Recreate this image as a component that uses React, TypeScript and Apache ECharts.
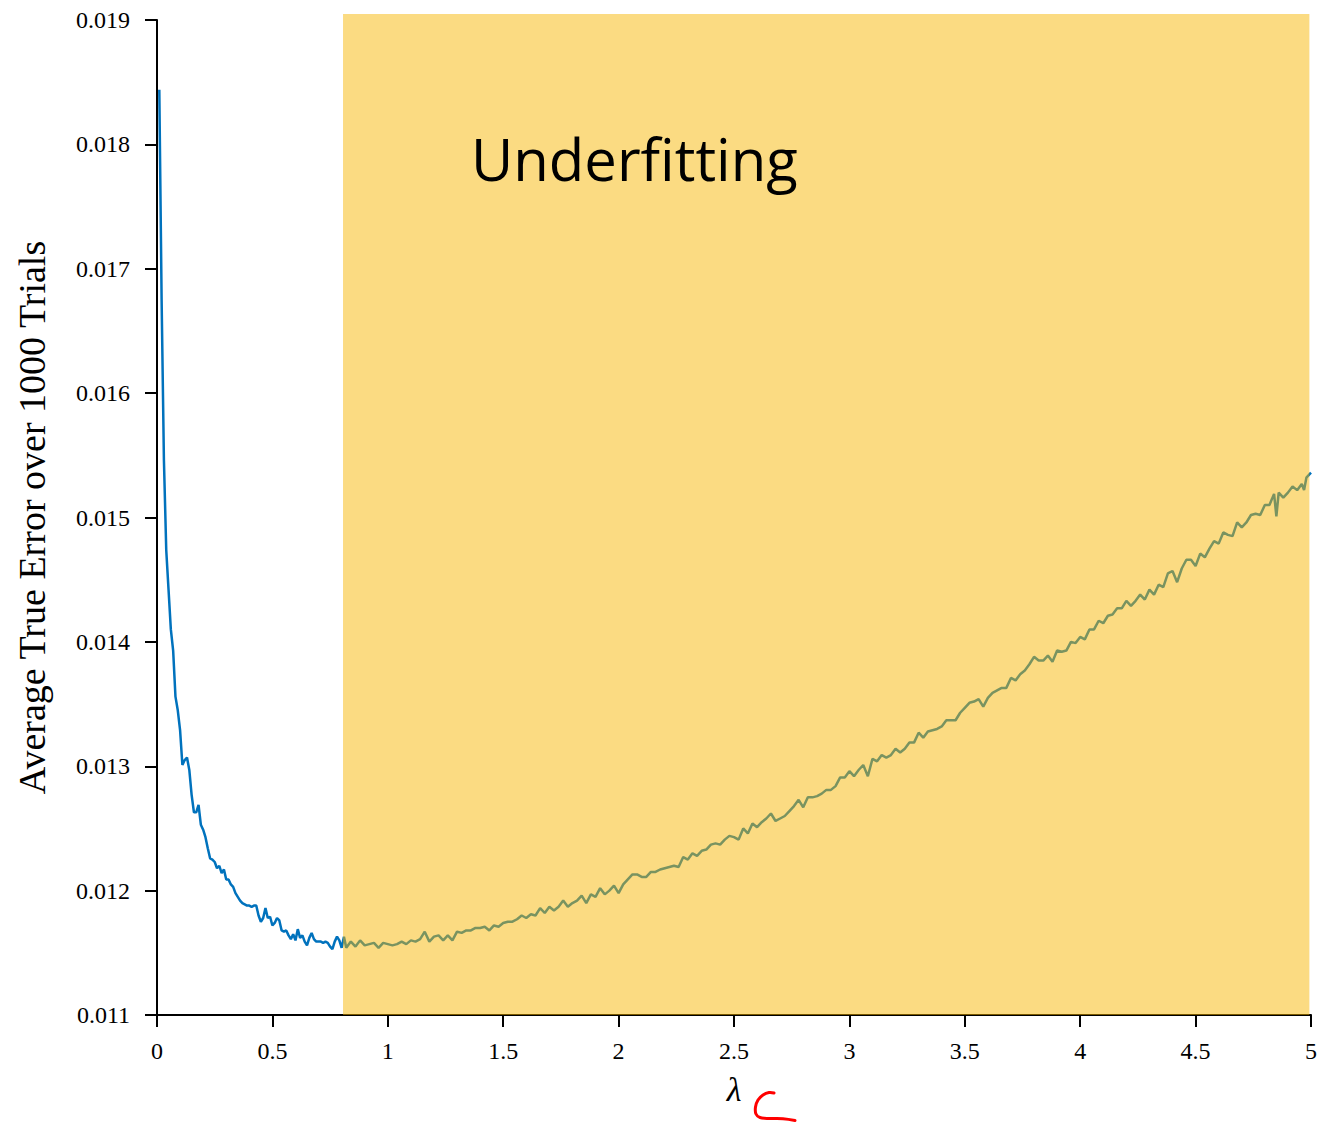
import React, { useEffect, useRef } from "react";
import * as echarts from "echarts";

// λ values (x) and average true error (y)
const lambdas: number[] = [
  0.01, 0.02, 0.03, 0.04, 0.05, 0.06, 0.07, 0.08, 0.09, 0.1,
  0.11, 0.12, 0.13, 0.14, 0.15, 0.16, 0.17, 0.18, 0.19, 0.2,
  0.21, 0.22, 0.23, 0.24, 0.25, 0.26, 0.27, 0.28, 0.29, 0.3,
  0.31, 0.32, 0.33, 0.34, 0.35, 0.36, 0.37, 0.38, 0.39, 0.4,
  0.41, 0.42, 0.43, 0.44, 0.45, 0.46, 0.47, 0.48, 0.49, 0.5,
  0.51, 0.52, 0.53, 0.54, 0.55, 0.56, 0.57, 0.58, 0.59, 0.6,
  0.61, 0.62, 0.63, 0.64, 0.65, 0.66, 0.67, 0.68, 0.69, 0.7,
  0.71, 0.72, 0.73, 0.74, 0.75, 0.76, 0.77, 0.78, 0.79, 0.8, 0.81,
  0.82, 0.84, 0.86, 0.88, 0.9, 0.92, 0.94, 0.96, 0.98, 1.0,
  1.02, 1.04, 1.06, 1.08, 1.1, 1.12, 1.14, 1.16, 1.18, 1.2,
  1.22, 1.24, 1.26, 1.28, 1.3, 1.32, 1.34, 1.36, 1.38, 1.4,
  1.42, 1.44, 1.46, 1.48, 1.5, 1.52, 1.54, 1.56, 1.58, 1.6,
  1.62, 1.64, 1.66, 1.68, 1.7, 1.72, 1.74, 1.76, 1.78, 1.8,
  1.82, 1.84, 1.86, 1.88, 1.9, 1.92, 1.94, 1.96, 1.98, 2.0,
  2.02, 2.04, 2.06, 2.08, 2.1, 2.12, 2.14, 2.16, 2.18, 2.2,
  2.22, 2.24, 2.26, 2.28, 2.3, 2.32, 2.34, 2.36, 2.38, 2.4,
  2.42, 2.44, 2.46, 2.48, 2.5, 2.52, 2.54, 2.56, 2.58, 2.6,
  2.62, 2.64, 2.66, 2.68, 2.7, 2.72, 2.74, 2.76, 2.78, 2.8,
  2.82, 2.84, 2.86, 2.88, 2.9, 2.92, 2.94, 2.96, 2.98, 3.0,
  3.02, 3.04, 3.06, 3.08, 3.1, 3.12, 3.14, 3.16, 3.18, 3.2,
  3.22, 3.24, 3.26, 3.28, 3.3, 3.32, 3.34, 3.36, 3.38, 3.4,
  3.42, 3.44, 3.46, 3.48, 3.5, 3.52, 3.54, 3.56, 3.58, 3.6,
  3.62, 3.64, 3.66, 3.68, 3.7, 3.72, 3.74, 3.76, 3.78, 3.8,
  3.82, 3.84, 3.86, 3.88, 3.9, 3.92, 3.94, 3.96, 3.98, 4.0,
  4.02, 4.04, 4.06, 4.08, 4.1, 4.12, 4.14, 4.16, 4.18, 4.2,
  4.22, 4.24, 4.26, 4.28, 4.3, 4.32, 4.34, 4.36, 4.38, 4.4,
  4.42, 4.44, 4.46, 4.48, 4.5, 4.52, 4.54, 4.56, 4.58, 4.6,
  4.62, 4.64, 4.66, 4.68, 4.7, 4.72, 4.74, 4.76, 4.78, 4.8,
  4.82, 4.84, 4.85, 4.86, 4.88, 4.9, 4.92, 4.94, 4.96, 4.97, 4.98, 5.0,
];

const errors: number[] = [
  0.01844, 0.01675, 0.01546, 0.01474, 0.01442, 0.0141, 0.01393, 0.01356, 0.01345, 0.01329,
  0.01301, 0.01305, 0.01307, 0.01297, 0.01277, 0.01263, 0.01263, 0.01269, 0.01253, 0.01249,
  0.01243, 0.01234, 0.01226, 0.01225, 0.01223, 0.01218, 0.0122, 0.01214, 0.01217, 0.01209,
  0.01209, 0.01205, 0.01203, 0.01198, 0.01195, 0.01192, 0.0119, 0.01189, 0.01188, 0.01188,
  0.01187, 0.01188, 0.01188, 0.0118, 0.01175, 0.01178, 0.01186, 0.01178, 0.01179, 0.01172,
  0.01174, 0.01178, 0.01176, 0.01168, 0.01167, 0.01168, 0.01164, 0.01161, 0.01165, 0.0116,
  0.01169, 0.01162, 0.01164, 0.01159, 0.01156, 0.01162, 0.01166, 0.01161, 0.01159, 0.01159,
  0.01159, 0.01158, 0.01159, 0.01158, 0.01155, 0.01153, 0.01159, 0.01163, 0.0116, 0.01154, 0.01163,
  0.01154, 0.01159, 0.01155, 0.0116, 0.01156, 0.01157, 0.01158, 0.01154, 0.01158, 0.01157,
  0.01156, 0.01157, 0.01159, 0.01157, 0.0116, 0.01159, 0.01161, 0.01167, 0.01159, 0.01163,
  0.01164, 0.0116, 0.01164, 0.0116, 0.01167, 0.01166, 0.01168, 0.01168, 0.0117, 0.0117,
  0.01171, 0.01168, 0.01172, 0.01171, 0.01174, 0.01175, 0.01175, 0.01177, 0.0118, 0.01178,
  0.01181, 0.0118, 0.01186, 0.01182, 0.01187, 0.01184, 0.01187, 0.01192, 0.01187, 0.0119,
  0.01192, 0.01196, 0.0119, 0.01197, 0.01195, 0.01202, 0.01197, 0.012, 0.01204, 0.01198,
  0.01205, 0.01209, 0.01213, 0.01213, 0.01211, 0.01211, 0.01215, 0.01215, 0.01217, 0.01218,
  0.01219, 0.0122, 0.01219, 0.01227, 0.01225, 0.0123, 0.01228, 0.01232, 0.01233, 0.01237,
  0.01238, 0.01237, 0.01241, 0.01244, 0.01243, 0.01241, 0.0125, 0.01246, 0.01254, 0.01251,
  0.01255, 0.01258, 0.01262, 0.01256, 0.01258, 0.0126, 0.01264, 0.01268, 0.01273, 0.01267,
  0.01275, 0.01275, 0.01276, 0.01278, 0.01281, 0.01281, 0.01284, 0.01291, 0.01291, 0.01296,
  0.01292, 0.01297, 0.01301, 0.01292, 0.01306, 0.01304, 0.01309, 0.01307, 0.01309, 0.01314,
  0.01311, 0.01314, 0.01319, 0.01319, 0.01327, 0.01323, 0.01328, 0.01329, 0.0133, 0.01332,
  0.01337, 0.01337, 0.01337, 0.01343, 0.01347, 0.01351, 0.01352, 0.01354, 0.01348, 0.01355,
  0.01359, 0.01361, 0.01363, 0.01363, 0.01371, 0.01369, 0.01374, 0.01377, 0.01382, 0.01388,
  0.01385, 0.01385, 0.01389, 0.01384, 0.01393, 0.01392, 0.01393, 0.014, 0.01399, 0.01404,
  0.01402, 0.0141, 0.0141, 0.01417, 0.01415, 0.01421, 0.01422, 0.01427, 0.01427, 0.01433,
  0.01429, 0.01433, 0.01438, 0.01434, 0.01442, 0.01438, 0.01446, 0.01444, 0.01455, 0.01457,
  0.01448, 0.01459, 0.01466, 0.01466, 0.01461, 0.01471, 0.01468, 0.01475, 0.01481, 0.01479,
  0.01488, 0.01486, 0.01485, 0.01496, 0.01492, 0.01496, 0.01502, 0.01503, 0.01502, 0.0151,
  0.0151, 0.01519, 0.01501, 0.0152, 0.01516, 0.0152, 0.01525, 0.01522, 0.01527, 0.01522, 0.01532, 0.01536,
];

// Shaded "Underfitting" region: [λ start, λ end, error top, error bottom]
const underfitRegion: number[] = [0.806, 4.993, 0.019048, 0.011];
const regionLabel = "Underfitting";

const xTicks = { min: 0, max: 5, interval: 0.5 };
const yTicks = { min: 0.011, max: 0.019, interval: 0.001 };

const xTitle = "λ";
const yTitle = "Average True Error over 1000 Trials";

const serif = "'Liberation Serif', 'DejaVu Serif', serif";

export default function App() {
  const ref = useRef<HTMLDivElement>(null);

  useEffect(() => {
    if (!ref.current) return;
    const chart = echarts.init(ref.current, undefined, { renderer: "svg" });
    const lineData = lambdas.map((l, i) => [l, errors[i]]);

    chart.setOption({
      animation: false,
      backgroundColor: "#ffffff",
      grid: { left: 157, right: 13, top: 20, bottom: 110, containLabel: false },
      xAxis: {
        type: "value",
        min: xTicks.min,
        max: xTicks.max,
        interval: xTicks.interval,
        name: xTitle,
        nameLocation: "middle",
        nameGap: 57,
        nameTextStyle: { fontFamily: serif, fontStyle: "italic", fontSize: 34, color: "#000" },
        axisLine: { show: true, onZero: false, lineStyle: { color: "#000", width: 2 } },
        axisTick: { show: true, inside: false, length: 12, lineStyle: { color: "#000", width: 2 } },
        axisLabel: {
          margin: 24,
          fontFamily: serif,
          fontSize: 24,
          color: "#000",
          formatter: (v: number) => String(v),
        },
        splitLine: { show: false },
      },
      yAxis: {
        type: "value",
        min: yTicks.min,
        max: yTicks.max,
        interval: yTicks.interval,
        name: yTitle,
        nameLocation: "middle",
        nameGap: 106,
        nameTextStyle: { fontFamily: serif, fontSize: 38, color: "#000" },
        axisLine: { show: true, onZero: false, lineStyle: { color: "#000", width: 2 } },
        axisTick: { show: true, inside: false, length: 12, lineStyle: { color: "#000", width: 2 } },
        axisLabel: {
          margin: 27,
          fontFamily: serif,
          fontSize: 24,
          color: "#000",
          formatter: (v: number) => v.toFixed(3),
        },
        splitLine: { show: false },
      },
      graphic: [
        {
          type: "text",
          x: 471,
          y: 158,
          z: 100,
          style: {
            text: regionLabel,
            fontFamily: "'Open Sans', 'Noto Sans', sans-serif",
            fontSize: 58,
            fill: "#000",
            textVerticalAlign: "middle",
            verticalAlign: "middle",
          },
        },
        {
          type: "polyline",
          z: 100,
          shape: {
            points: [
              [774, 1093],
              [769, 1092.5],
              [763, 1095],
              [758, 1100],
              [755.5, 1107],
              [756, 1114],
              [760, 1117.5],
              [770, 1118.5],
              [783, 1118.8],
              [795, 1120.5],
            ],
            smooth: 0.4,
          },
          style: { stroke: "#ff0000", lineWidth: 3, fill: null, lineCap: "round", lineJoin: "round" },
        },
      ],
      series: [
        {
          type: "line",
          data: lineData,
          showSymbol: false,
          symbol: "none",
          z: 2,
          lineStyle: { color: "#0072BD", width: 2.5 },
          itemStyle: { color: "#0072BD" },
          clip: false,
        },
        {
          type: "custom",
          z: 3,
          clip: false,
          silent: true,
          encode: { x: [0, 1], y: [2, 3] },
          data: [underfitRegion],
          renderItem: (params: any, api: any) => {
            const p1 = api.coord([api.value(0), api.value(2)]);
            const p2 = api.coord([api.value(1), api.value(3)]);
            return {
              type: "rect",
              shape: { x: p1[0], y: p1[1], width: p2[0] - p1[0], height: p2[1] - p1[1] },
              style: { fill: "rgba(246,181,0,0.49)" },
            };
          },
        },
      ],
    });

    return () => chart.dispose();
  }, []);

  return (
    <div
      ref={ref}
      style={{ position: "absolute", left: 0, top: 0, width: 1324, height: 1125 }}
    />
  );
}
